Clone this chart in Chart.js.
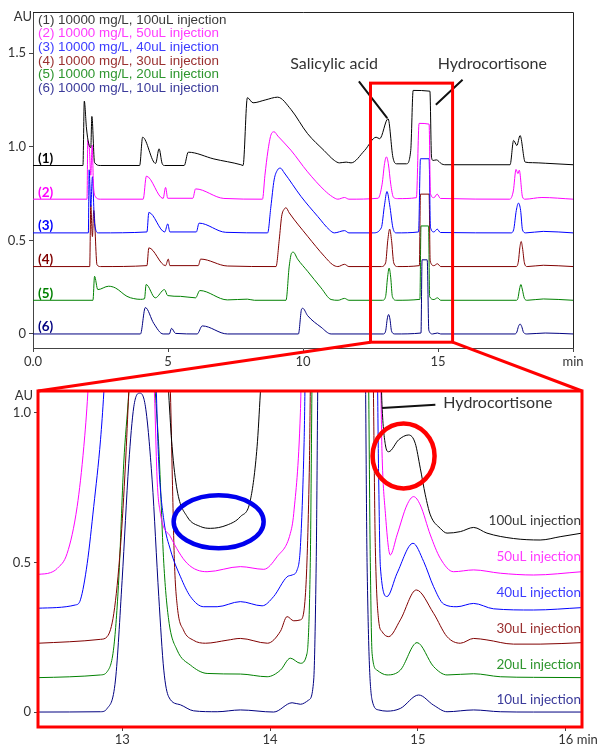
<!DOCTYPE html>
<html>
<head>
<meta charset="utf-8">
<script src="https://cdn.jsdelivr.net/npm/chart.js"></script>
<style>
  body { margin: 0; background: #fff; }
  #wrap { position: relative; width: 598px; height: 747px; }
  canvas { position: absolute; left: 0; }
  #top { top: 0; }
  #zoom { top: 372px; }
  #overlay { top: 0; pointer-events: none; }
</style>
</head>
<body>
<div id="wrap">
  <canvas id="top" width="598" height="372"></canvas>
  <canvas id="zoom" width="598" height="375"></canvas>
  <canvas id="overlay" width="598" height="747"></canvas>
</div>
<script>
// full run, signal above each trace's own baseline: [min, AU]
const top100 = [[0,0],[1.85,0],[1.9,0.344],[1.98,0.2],[2.06,0.118],[2.14,0.096],[2.18,0.262],[2.28,0.016],[2.49,0],[3.95,0],[4.06,0.151],[4.54,0.011],[4.67,0.089],[4.78,0.012],[4.87,0],[5.6,0],[5.75,0.071],[6.7,0.035],[7.7,0.004],[7.78,0],[7.94,0.362],[8.15,0.335],[8.6,0.35],[9.06,0.365],[9.55,0.3],[10.17,0.17],[10.78,0.08],[11.16,0.027],[11.35,0.014],[11.6,0.018],[11.78,0.014],[12.28,0.08],[12.71,0.151],[12.84,0.143],[13.15,0.25],[13.33,0.044],[13.46,0.009],[13.83,0.009],[13.99,0.08],[14.08,0.401],[14.7,0.397],[14.76,0.044],[14.82,0.027],[14.94,0.03],[15.13,0.009],[15.25,0.004],[17.67,0.004],[17.8,0.134],[17.92,0.107],[18.04,0.16],[18.23,0.018],[18.5,0.015],[18.97,0.012],[20,0.004]];
const top50 = [[0,0],[2.0,0],[2.03,0.315],[2.09,0.262],[2.14,0.128],[2.19,0.289],[2.24,0.075],[2.3,0.016],[2.49,0],[4.08,0],[4.2,0.123],[4.82,0.004],[4.91,0.063],[4.99,0.005],[5.92,0.005],[6.02,0.055],[7.07,0.004],[8.5,0],[8.59,0.128],[8.7,0.257],[8.81,0.342],[8.93,0.36],[9.07,0.337],[9.55,0.262],[10.17,0.146],[10.79,0.048],[11.1,0.012],[11.29,0],[11.54,0.009],[11.7,0],[12.78,0.005],[12.93,0.08],[13.02,0.19],[13.09,0.226],[13.16,0.19],[13.25,0.08],[13.35,0.01],[13.5,0.003],[14.2,0.008],[14.3,0.405],[14.67,0.401],[14.72,0.03],[14.85,0.008],[14.97,0.027],[15.09,0.004],[17.66,0],[17.79,0.044],[17.89,0.159],[17.96,0.137],[18.01,0.155],[18.13,0.012],[18.22,0],[18.85,0.009],[20,0]];
const top40 = [[0,0],[2.05,0],[2.08,0.337],[2.14,0.14],[2.2,0.3],[2.28,0.05],[2.42,0],[4.22,0.005],[4.29,0.109],[4.88,0.005],[4.99,0.048],[5.07,0.005],[6.05,0.005],[6.15,0.052],[7.14,0.003],[8.69,0],[8.81,0.139],[8.93,0.283],[9.06,0.337],[9.16,0.346],[9.31,0.32],[9.93,0.194],[10.55,0.087],[10.98,0.016],[11.16,0],[11.54,0.012],[11.7,0],[12.6,0],[12.9,0.027],[13.02,0.15],[13.11,0.221],[13.21,0.15],[13.33,0.027],[13.45,0],[14.28,0.005],[14.35,0.396],[14.67,0.396],[14.72,0.03],[14.85,0.005],[14.97,0.02],[15.09,0.002],[17.7,0],[17.8,0.016],[17.9,0.12],[17.98,0.159],[18.06,0.12],[18.13,0.016],[18.25,0],[18.9,0.008],[20,0]];
const top30 = [[0,0],[2.1,0],[2.14,0.33],[2.2,0.16],[2.25,0.3],[2.37,0.01],[2.5,0],[4.22,0.005],[4.29,0.1],[4.91,0.005],[5.01,0.04],[5.07,0.005],[6.12,0.005],[6.21,0.04],[7.2,0.003],[9.0,0],[9.12,0.143],[9.21,0.269],[9.31,0.308],[9.37,0.314],[9.49,0.287],[10.17,0.162],[10.79,0.055],[11.1,0.01],[11.29,0],[11.54,0.012],[11.7,0],[12.9,0],[13.06,0.02],[13.14,0.14],[13.21,0.2],[13.28,0.14],[13.36,0.02],[13.5,0],[14.31,0.005],[14.35,0.387],[14.67,0.387],[14.71,0.03],[14.85,0.005],[14.98,0.015],[15.1,0],[17.9,0],[17.98,0.03],[18.03,0.1],[18.08,0.134],[18.13,0.1],[18.2,0.02],[18.3,0],[18.9,0.007],[20,0]];
const top20 = [[0,0],[2.22,0],[2.28,0.128],[2.4,0.057],[2.8,0.075],[3.05,0.066],[3.48,0.021],[3.73,0.009],[3.98,0.005],[4.13,0.008],[4.19,0.084],[4.53,0.013],[4.87,0.057],[4.99,0.025],[5.46,0.021],[6.02,0.013],[6.18,0.052],[7.2,0.002],[7.94,0.006],[8.2,0],[9.37,0],[9.49,0.182],[9.58,0.253],[9.64,0.257],[9.8,0.22],[10.17,0.155],[10.67,0.066],[11.04,0.004],[11.3,0],[11.54,0.01],[11.7,0],[12.95,0],[13.06,0.02],[13.13,0.12],[13.19,0.172],[13.25,0.12],[13.31,0.02],[13.45,0],[14.33,0.005],[14.37,0.397],[14.65,0.397],[14.69,0.02],[14.85,0.004],[14.98,0.013],[15.1,0],[17.9,0],[17.96,0.01],[18.02,0.06],[18.07,0.084],[18.12,0.06],[18.2,0.01],[18.3,0],[18.9,0.007],[20,0]];
const top10 = [[0,0],[3.98,0],[4.16,0.141],[4.47,0.057],[4.82,0],[5.05,0],[5.13,0.03],[5.28,0.003],[6.08,0],[6.27,0.043],[7.2,0],[9.83,0],[9.95,0.134],[9.99,0.137],[10.17,0.098],[10.67,0.036],[11.04,0],[12.97,0],[13.06,0.015],[13.12,0.08],[13.17,0.104],[13.22,0.08],[13.28,0.015],[13.4,0],[14.37,0.005],[14.41,0.396],[14.6,0.396],[14.66,0.02],[14.8,0],[14.98,0.005],[15.1,0],[17.85,0],[17.92,0.01],[17.98,0.04],[18.04,0.053],[18.1,0.04],[18.17,0.008],[18.3,0],[18.97,0.005],[20,0]];
const topOffsets = [0.9, 0.72, 0.54, 0.36, 0.18, 0];

// 12.4-16.1 min close-up, values as plotted (over 1.07 runs off the top)
const zoom100 = [[12.43,1.3],[13.29,1.3],[13.314,1.066],[13.337,0.887],[13.371,0.742],[13.439,0.653],[13.529,0.62],[13.596,0.614],[13.709,0.625],[13.799,0.653],[13.867,0.709],[13.912,0.887],[13.934,1.066],[13.96,1.3],[14.74,1.3],[14.757,1.027],[14.78,0.893],[14.802,0.87],[14.87,0.91],[14.937,0.926],[14.982,0.898],[15.016,0.815],[15.05,0.726],[15.084,0.659],[15.151,0.614],[15.197,0.598],[15.287,0.603],[15.377,0.617],[15.467,0.598],[15.647,0.58],[15.827,0.575],[15.962,0.586],[16.11,0.598]];
const zoom50 = [[12.43,0.46],[12.515,0.466],[12.56,0.48],[12.627,0.53],[12.695,0.687],[12.74,0.887],[12.767,1.066],[12.79,1.3],[13.2,1.3],[13.218,1.066],[13.236,0.776],[13.258,0.664],[13.326,0.586],[13.439,0.497],[13.574,0.469],[13.799,0.486],[13.957,0.477],[14.047,0.519],[14.137,0.597],[14.16,0.664],[14.205,1.0],[14.22,1.3],[14.74,1.3],[14.757,0.87],[14.78,0.664],[14.813,0.525],[14.859,0.592],[14.926,0.692],[14.971,0.72],[15.016,0.692],[15.084,0.592],[15.151,0.514],[15.241,0.469],[15.377,0.475],[15.557,0.464],[15.782,0.458],[16.11,0.469]];
const zoom40 = [[12.43,0.347],[12.684,0.358],[12.717,0.375],[12.763,0.497],[12.807,0.687],[12.853,0.91],[12.875,1.066],[12.9,1.3],[13.22,1.3],[13.231,1.066],[13.247,0.832],[13.281,0.642],[13.326,0.542],[13.394,0.452],[13.461,0.386],[13.551,0.352],[13.642,0.352],[13.799,0.369],[13.946,0.355],[14.024,0.386],[14.115,0.452],[14.149,0.458],[14.183,0.475],[14.205,0.553],[14.23,0.9],[14.245,1.3],[14.72,1.3],[14.734,0.8],[14.746,0.486],[14.791,0.386],[14.859,0.464],[14.967,0.564],[15.039,0.503],[15.106,0.419],[15.174,0.361],[15.264,0.352],[15.377,0.363],[15.512,0.345],[15.782,0.341],[16.11,0.349]];
const zoom30 = [[12.43,0.23],[12.853,0.243],[12.898,0.252],[12.943,0.33],[12.988,0.553],[13.022,0.832],[13.044,1.066],[13.07,1.3],[13.31,1.3],[13.326,1.066],[13.339,0.776],[13.353,0.5],[13.373,0.35],[13.414,0.274],[13.481,0.24],[13.563,0.23],[13.709,0.24],[13.799,0.246],[13.982,0.23],[14.07,0.27],[14.115,0.319],[14.16,0.305],[14.205,0.308],[14.24,0.4],[14.265,0.8],[14.28,1.3],[14.69,1.3],[14.712,0.55],[14.734,0.308],[14.757,0.269],[14.802,0.252],[14.881,0.308],[14.989,0.408],[15.106,0.33],[15.197,0.252],[15.287,0.23],[15.377,0.246],[15.467,0.241],[15.647,0.227],[15.827,0.227],[16.11,0.232]];
const zoom20 = [[12.43,0.115],[12.853,0.124],[12.898,0.135],[12.943,0.218],[12.976,0.441],[13.01,0.832],[13.044,1.066],[13.07,1.3],[13.2,1.3],[13.224,1.066],[13.247,0.887],[13.281,0.497],[13.314,0.308],[13.371,0.207],[13.461,0.157],[13.574,0.129],[13.799,0.127],[13.98,0.118],[14.07,0.14],[14.137,0.18],[14.205,0.163],[14.25,0.196],[14.272,0.5],[14.29,1.3],[14.66,1.3],[14.678,0.5],[14.69,0.196],[14.723,0.14],[14.791,0.124],[14.881,0.14],[14.994,0.232],[15.106,0.152],[15.197,0.124],[15.377,0.128],[15.557,0.118],[15.782,0.116],[16.11,0.115]];
const zoom10 = [[12.43,0],[12.853,0.001],[12.898,0.012],[12.954,0.107],[12.999,0.44],[13.044,0.83],[13.078,1.02],[13.118,1.066],[13.157,1.02],[13.202,0.776],[13.247,0.386],[13.281,0.14],[13.314,0.051],[13.394,0.024],[13.483,0.004],[13.642,0.001],[13.799,0.007],[14.024,0],[14.149,0.031],[14.205,0.026],[14.261,0.04],[14.295,0.107],[14.312,0.5],[14.329,1.3],[14.64,1.3],[14.656,0.5],[14.69,0.04],[14.734,0.007],[14.791,0.003],[14.881,0.012],[15.005,0.057],[15.106,0.023],[15.197,0.001],[15.377,0.007],[15.557,0.001],[15.782,0],[16.11,0]];

const traceTags = ['(1)', '(2)', '(3)', '(4)', '(5)', '(6)'];
const legendLabels = ['(1) 10000 mg/L, 100uL injection', '(2) 10000 mg/L, 50uL injection', '(3) 10000 mg/L, 40uL injection', '(4) 10000 mg/L, 30uL injection', '(5) 10000 mg/L, 20uL injection', '(6) 10000 mg/L, 10uL injection'];
const injectionLabels = ['100uL injection', '50uL injection', '40uL injection', '30uL injection', '20uL injection', '10uL injection'];
const topXTicks = [0, 5, 10, 15, 20];
const topXLabels = ['0.0', '5', '10', '15', 'min'];
const topYTicks = [0, 0.5, 1, 1.5];
const topYLabels = ['0', '0.5', '1.0', '1.5'];
const zoomXTicks = [13, 14, 15, 16];
const zoomXLabels = ['13', '14', '15', '16'];
const zoomYTicks = [0, 0.5, 1];
const zoomYLabels = ['0', '0.5', '1.0'];

const lineColors = ['#000000', '#ff00ff', '#0000ff', '#800000', '#008000', '#000080'];
const textColors = ['#3a3a3a', '#ff3cff', '#3c3cff', '#9a3030', '#2f962f', '#3a3a9a'];
const boxRange = [12.5, 15.54, -0.044, 1.34];   // red window on the full run
const labelLevels = [0.64, 0.52, 0.40, 0.28, 0.16, 0.04];

Chart.defaults.font.family = 'Lato, "Liberation Sans", sans-serif';
Chart.defaults.color = '#333';

function buildSets(traces, offs) {
  return traces.map((tr, i) => ({
    data: tr.map(p => ({ x: p[0], y: p[1] + (offs ? offs[i] : 0) })),
    borderColor: lineColors[i],
    borderWidth: 1,
    pointRadius: 0,
    fill: false,
    cubicInterpolationMode: 'monotone'
  }));
}

function fixedTicks(values) {
  return s => { s.ticks = values.map(v => ({ value: v })); };
}

const topDecor = {
  id: 'topDecor',
  afterDraw(chart) {
    const { ctx, chartArea: a, scales: { x, y } } = chart;
    ctx.save();
    ctx.strokeStyle = '#222';
    ctx.lineWidth = 1;
    ctx.beginPath();
    ctx.moveTo(a.left, a.top + 0.5);
    ctx.lineTo(a.right + 0.5, a.top + 0.5);
    ctx.lineTo(a.right + 0.5, a.bottom);
    ctx.stroke();

    ctx.textBaseline = 'middle';
    ctx.fillStyle = '#333';
    ctx.font = '13px Lato';
    ctx.textAlign = 'right';
    ctx.fillText('AU', a.left - 1, a.top + 5);

    ctx.textAlign = 'left';
    ctx.font = '13.4px "Liberation Sans"';
    legendLabels.forEach((s, i) => {
      ctx.fillStyle = textColors[i];
      ctx.fillText(s, a.left + 5, a.top + 8 + i * 13.7);
    });
    ctx.font = 'bold 13.5px Lato';
    traceTags.forEach((s, i) => {
      ctx.fillStyle = lineColors[i];
      ctx.fillText(s, a.left + 5, y.getPixelForValue(topOffsets[i]) - 7);
    });

    ctx.strokeStyle = '#111';
    ctx.lineWidth = 2;
    ctx.beginPath();
    ctx.moveTo(x.getPixelForValue(12.07), y.getPixelForValue(1.349));
    ctx.lineTo(x.getPixelForValue(13.12), y.getPixelForValue(1.153));
    ctx.moveTo(x.getPixelForValue(15.91), y.getPixelForValue(1.358));
    ctx.lineTo(x.getPixelForValue(14.92), y.getPixelForValue(1.225));
    ctx.stroke();
    ctx.fillStyle = '#333';
    ctx.font = '16px Lato';
    ctx.textAlign = 'center';
    ctx.fillText('Salicylic acid', x.getPixelForValue(11.15), y.getPixelForValue(1.444));
    ctx.fillText('Hydrocortisone', x.getPixelForValue(17.01), y.getPixelForValue(1.444));

    ctx.strokeStyle = '#ff0000';
    ctx.lineWidth = 3;
    const x0 = x.getPixelForValue(boxRange[0]), x1 = x.getPixelForValue(boxRange[1]);
    const y0 = y.getPixelForValue(boxRange[3]), y1 = y.getPixelForValue(boxRange[2]);
    ctx.strokeRect(x0, y0, x1 - x0, y1 - y0);
    ctx.restore();
  }
};

const zoomDecor = {
  id: 'zoomDecor',
  afterDraw(chart) {
    const { ctx, chartArea: a, scales: { x, y } } = chart;
    ctx.save();
    ctx.strokeStyle = '#ff0000';
    ctx.lineWidth = 3;
    ctx.strokeRect(a.left, a.top, a.right - a.left, a.bottom - a.top);

    ctx.textBaseline = 'middle';
    ctx.fillStyle = '#333';
    ctx.font = '13px Lato';
    ctx.textAlign = 'right';
    ctx.fillText('AU', a.left - 5, a.top + 5);
    ctx.textAlign = 'left';
    ctx.fillText('min', x.getPixelForValue(16) + 11, a.bottom + 13);

    ctx.textAlign = 'right';
    ctx.font = '13.5px Lato';
    injectionLabels.forEach((s, i) => {
      ctx.fillStyle = textColors[i];
      ctx.fillText(s, a.right - 1, y.getPixelForValue(labelLevels[i]));
    });

    ctx.lineWidth = 4.5;
    ctx.strokeStyle = '#0000ee';
    ctx.beginPath();
    ctx.ellipse(x.getPixelForValue(13.652), y.getPixelForValue(0.636), 45, 26.5, 0, 0, Math.PI * 2);
    ctx.stroke();
    ctx.strokeStyle = '#ff0000';
    ctx.beginPath();
    ctx.ellipse(x.getPixelForValue(14.903), y.getPixelForValue(0.856), 31, 32.5, 0, 0, Math.PI * 2);
    ctx.stroke();

    ctx.strokeStyle = '#111';
    ctx.lineWidth = 2;
    ctx.beginPath();
    ctx.moveTo(x.getPixelForValue(14.757), y.getPixelForValue(1.016));
    ctx.lineTo(x.getPixelForValue(15.118), y.getPixelForValue(1.027));
    ctx.stroke();
    ctx.fillStyle = '#333';
    ctx.font = '16px Lato';
    ctx.textAlign = 'left';
    ctx.fillText('Hydrocortisone', x.getPixelForValue(15.172), y.getPixelForValue(1.033));
    ctx.restore();
  }
};

const axisGrid = { drawOnChartArea: false, tickLength: 4, color: '#444' };

const topChart = new Chart(document.getElementById('top'), {
  type: 'line',
  data: { datasets: buildSets([top100, top50, top40, top30, top20, top10], topOffsets) },
  options: {
    responsive: false,
    animation: false,
    devicePixelRatio: 1,
    layout: { padding: { left: 0, right: 25, top: 12, bottom: 0 } },
    plugins: { legend: { display: false }, tooltip: { enabled: false } },
    scales: {
      x: {
        type: 'linear', min: 0, max: 20,
        afterBuildTicks: fixedTicks(topXTicks),
        afterFit: s => { s.height = 24; },
        ticks: { autoSkip: false, maxRotation: 0, padding: 2, font: { size: 13 }, callback: (v, i) => topXLabels[i] },
        grid: axisGrid,
        border: { color: '#444' }
      },
      y: {
        min: -0.075, max: 1.72,
        afterBuildTicks: fixedTicks(topYTicks),
        afterFit: s => { s.width = 33; },
        ticks: { padding: 3, font: { size: 13 }, callback: (v, i) => topYLabels[i] },
        grid: axisGrid,
        border: { color: '#444' }
      }
    }
  },
  plugins: [topDecor]
});

const zoomChart = new Chart(document.getElementById('zoom'), {
  type: 'line',
  data: { datasets: buildSets([zoom100, zoom50, zoom40, zoom30, zoom20, zoom10]) },
  options: {
    responsive: false,
    animation: false,
    devicePixelRatio: 1,
    layout: { padding: { left: 0, right: 16, top: 19, bottom: 0 } },
    plugins: { legend: { display: false }, tooltip: { enabled: false } },
    scales: {
      x: {
        type: 'linear', min: 12.43, max: 16.11,
        afterBuildTicks: fixedTicks(zoomXTicks),
        afterFit: s => { s.height = 20; },
        ticks: { autoSkip: false, maxRotation: 0, padding: 1, font: { size: 13 }, callback: (v, i) => zoomXLabels[i] },
        grid: axisGrid,
        border: { color: '#444' }
      },
      y: {
        min: -0.05, max: 1.073,
        afterBuildTicks: fixedTicks(zoomYTicks),
        afterFit: s => { s.width = 38; },
        ticks: { padding: 3, font: { size: 13 }, callback: (v, i) => zoomYLabels[i] },
        grid: axisGrid,
        border: { color: '#444' }
      }
    }
  },
  plugins: [zoomDecor]
});

// red connectors from the window on the full run to the close-up frame
const ov = document.getElementById('overlay').getContext('2d');
const tx = topChart.scales.x, ty = topChart.scales.y, za = zoomChart.chartArea;
const zoomTop = 372;
ov.strokeStyle = '#ff0000';
ov.lineWidth = 3;
ov.beginPath();
ov.moveTo(tx.getPixelForValue(boxRange[0]), ty.getPixelForValue(boxRange[2]));
ov.lineTo(za.left, za.top + zoomTop);
ov.moveTo(tx.getPixelForValue(boxRange[1]), ty.getPixelForValue(boxRange[2]));
ov.lineTo(za.right, za.top + zoomTop);
ov.stroke();
</script>
</body>
</html>
